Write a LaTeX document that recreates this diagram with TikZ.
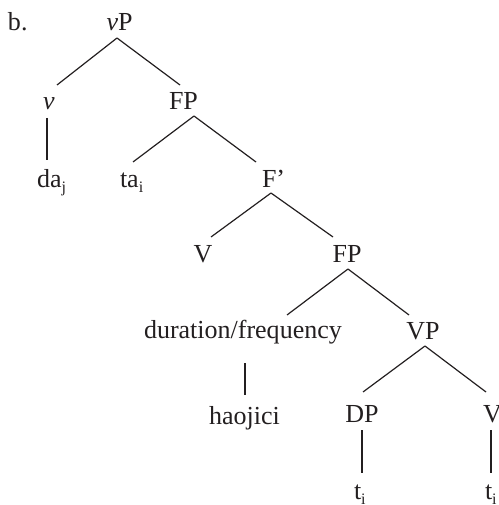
\documentclass[tikz,border=0pt]{standalone}
\usepackage{fontspec}
\setmainfont{Liberation Serif}
\definecolor{ink}{HTML}{231F20}
\newcommand{\sbs}[1]{\raisebox{-5pt}{\fontsize{16}{16}\selectfont #1}}
\tikzset{
  lbl/.style={inner sep=0pt, outer sep=0pt, text=ink, font=\fontsize{26}{30}\selectfont},
  branch/.style={draw=ink, line width=1.2pt},
  stem/.style={draw=ink, line width=2.4pt},
}
\begin{document}
\begin{tikzpicture}[x=1pt, y=-1pt]
  \useasboundingbox (0,0) rectangle (498,505);

  % labels of the tree
  \node[lbl, anchor=base west] (ex)  at (8,31)    {b.};
  \node[lbl, anchor=base]      (vP)  at (119.5,31) {\textit{v}P};
  \node[lbl, anchor=base]      (v)   at (49,110)  {\textit{v}};
  \node[lbl, anchor=base]      (FPa) at (183.5,110) {FP};
  \node[lbl, anchor=base west] (da)  at (37,187)  {da\sbs{j}};
  \node[lbl, anchor=base west] (ta)  at (120,187) {ta\sbs{i}};
  \node[lbl, anchor=base west] (Fb)  at (262,187) {F’};
  \node[lbl, anchor=base]      (Va)  at (203,262) {V};
  \node[lbl, anchor=base]      (FPb) at (347,262) {FP};
  \node[lbl, anchor=base west] (dur) at (144,338) {duration/frequency};
  \node[lbl, anchor=base]      (VP)  at (423,339) {VP};
  \node[lbl, anchor=base]      (hao) at (244.5,424) {haojici};
  \node[lbl, anchor=base]      (DP)  at (362,422) {DP};
  \node[lbl, anchor=base west] (Vb)  at (483,422) {V};
  \node[lbl, anchor=base west] (ta1) at (354,499) {t\sbs{i}};
  \node[lbl, anchor=base west] (ta2) at (485,499) {t\sbs{i}};

  % branches
  \draw[branch] ([shift={(-2.5,7)}]vP.base) -- ([shift={(8,-25)}]v.base);
  \draw[branch] ([shift={(-2.5,7)}]vP.base) -- ([shift={(-3.5,-25)}]FPa.base);
  \draw[stem]   ([shift={(-2,8)}]v.base) -- ([shift={(10,-27)}]da.base west);
  \draw[branch] ([shift={(10.5,6)}]FPa.base) -- ([shift={(13,-25)}]ta.base west);
  \draw[branch] ([shift={(10.5,6)}]FPa.base) -- ([shift={(-6,-25)}]Fb.base west);
  \draw[branch] ([shift={(9,6)}]Fb.base west) -- ([shift={(8,-25)}]Va.base);
  \draw[branch] ([shift={(9,6)}]Fb.base west) -- ([shift={(-14,-25)}]FPb.base);
  \draw[branch] ([shift={(1,7)}]FPb.base) -- ([shift={(143,-23)}]dur.base west);
  \draw[branch] ([shift={(1,7)}]FPb.base) -- ([shift={(-14,-24)}]VP.base);
  \draw[stem]   ([shift={(101,25)}]dur.base west) -- ([shift={(0.5,-29)}]hao.base);
  \draw[branch] ([shift={(2,7)}]VP.base) -- ([shift={(1,-30)}]DP.base);
  \draw[branch] ([shift={(2,7)}]VP.base) -- ([shift={(3,-30)}]Vb.base west);
  \draw[stem]   ([shift={(0,8)}]DP.base) -- ([shift={(8,-26)}]ta1.base west);
  \draw[stem]   ([shift={(8,8)}]Vb.base west) -- ([shift={(6,-26)}]ta2.base west);
\end{tikzpicture}
\end{document}
